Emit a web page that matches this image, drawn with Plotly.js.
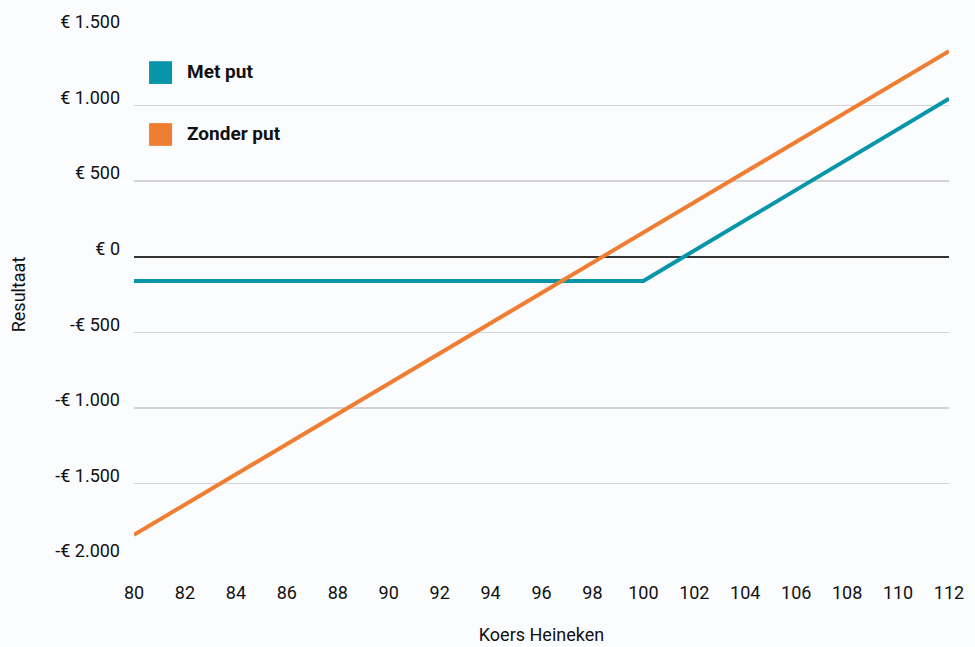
<!DOCTYPE html>
<html><head><meta charset="utf-8">
<script src="https://cdn.plot.ly/plotly-3.0.1.min.js"></script>
<style>html,body{margin:0;padding:0;background:#fbfcfe;}</style>
</head><body>
<div id="chart" style="width:975px;height:647px;"></div>
<script>
// Data
const koers = [80, 100, 112];
const metPut = [-160, -160, 1045];
const zonderPutX = [80, 112];
const zonderPut = [-1840, 1360];
const seriesNames = ["Met put", "Zonder put"];
const xTicks = [80,82,84,86,88,90,92,94,96,98,100,102,104,106,108,110,112];
const yTicks = [-2000,-1500,-1000,-500,0,500,1000,1500];
const yTickText = ["-€ 2.000","-€ 1.500","-€ 1.000","-€ 500","€ 0","€ 500","€ 1.000","€ 1.500"];

const teal = "#0795aa";
const orange = "#ef7e33";

const traces = [
  {x: koers, y: metPut, mode: "lines", name: seriesNames[0], line: {color: teal, width: 4}, showlegend: false},
  {x: zonderPutX, y: zonderPut, mode: "lines", name: seriesNames[1], line: {color: orange, width: 4}, showlegend: false}
];

const layout = {
  width: 975, height: 647,
  paper_bgcolor: "#fbfcfe", plot_bgcolor: "#fbfcfe",
  margin: {l: 134, r: 26, t: 30, b: 88},
  font: {family: "Roboto, sans-serif", size: 18, color: "#111"},
  xaxis: {
    range: [80, 112], tickvals: xTicks, showgrid: false, zeroline: false,
    showline: false, ticks: "", ticklabelstandoff: 21,
    title: {text: "Koers Heineken", font: {size: 18}, standoff: 26}
  },
  yaxis: {
    range: [-2000, 1500], tickvals: yTicks, ticktext: yTickText,
    showgrid: true, gridcolor: "#d4d4d6", gridwidth: 1.5,
    zeroline: true, zerolinecolor: "#333333", zerolinewidth: 2,
    showline: false, ticks: "", ticklabelstandoff: 13, ticklabelshift: -8,
    title: {text: "Resultaat", font: {size: 18}, standoff: 24}
  },
  shapes: [
    {type: "rect", xref: "paper", yref: "paper", x0: 0.0185, x1: 0.0467, y0: 0.898, y1: 0.941, fillcolor: teal, line: {width: 0}},
    {type: "rect", xref: "paper", yref: "paper", x0: 0.0185, x1: 0.0467, y0: 0.781, y1: 0.824, fillcolor: orange, line: {width: 0}}
  ],
  annotations: [
    {xref: "paper", yref: "paper", x: 0.0625, y: 0.921, xanchor: "left", yanchor: "middle", text: "<b>" + seriesNames[0] + "</b>", showarrow: false, font: {size: 19, color: "#111"}},
    {xref: "paper", yref: "paper", x: 0.0625, y: 0.804, xanchor: "left", yanchor: "middle", text: "<b>" + seriesNames[1] + "</b>", showarrow: false, font: {size: 19, color: "#111"}}
  ]
};

Plotly.newPlot("chart", traces, layout, {displayModeBar: false, staticPlot: true});
</script>
</body></html>
